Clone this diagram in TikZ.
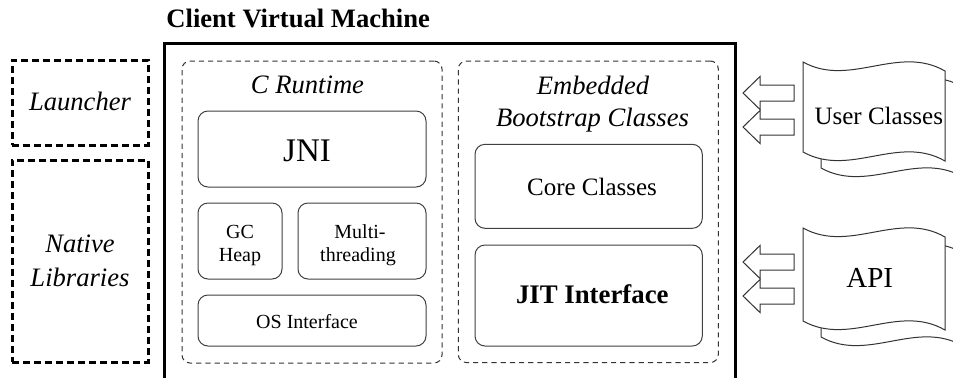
\documentclass[tikz,border=0pt]{standalone}
\usepackage{fontspec}
\setmainfont{Liberation Serif}
\usetikzlibrary{fit}
\tikzset{
  extbox/.style={draw=black, line width=1.5pt, dash pattern=on 3.5pt off 2pt, inner sep=0pt},
  groupbox/.style={draw=black!80, line width=0.5pt, dash pattern=on 2.6pt off 2pt, rounded corners=4pt, inner sep=0pt},
  ibox/.style={draw=black!75, line width=0.5pt, rounded corners=5pt, inner sep=0pt},
  docpage/.style={draw=black!80, line width=0.5pt, fill=white},
  blockarrow/.style={draw=black!80, line width=0.5pt, fill=white, line join=miter},
  lbl/.style={inner sep=0pt, anchor=base, align=center},
  fit/.append style={inner sep=0pt}
}
\newcommand\fsTitle{\fontsize{13.3}{17}\selectfont\bfseries}
\newcommand\fsItal{\fontsize{13.3}{17}\selectfont\itshape}
\newcommand\fsSmall{\fontsize{10}{11.7}\selectfont}
\newcommand\fsMid{\fontsize{12.5}{15}\selectfont}
\newcommand\docshape[3]{% x, y, h
  \begin{scope}[shift={(#1+18,#2+16)}]
    \path[docpage] (0,0) .. controls (47,26) and (95,-18) .. (142,9) -- (142,#3+9)
      .. controls (95,#3-18) and (47,#3+26) .. (0,#3) -- cycle;
  \end{scope}
  \begin{scope}[shift={(#1,#2)}]
    \path[docpage] (0,0) .. controls (47,26) and (95,-18) .. (142,9) -- (142,#3+9)
      .. controls (95,#3-18) and (47,#3+26) .. (0,#3) -- cycle;
  \end{scope}
}
\newcommand\blkarrow[1]{% tip y
  \path[blockarrow] (743,#1) -- (760,#1-16.5) -- (760,#1-8) -- (794,#1-8) -- (794,#1+8)
    -- (760,#1+8) -- (760,#1+16.5) -- cycle;
}
\begin{document}
\begin{tikzpicture}[x=0.5pt,y=-0.5pt]
\useasboundingbox (0,0) rectangle (953,377);
\clip (0,0) rectangle (953,377);
\fill[white] (0,0) rectangle (953,377);

% title
\node[lbl, anchor=base west] (title) at (166,27) {\fsTitle Client Virtual Machine};

% external boxes
\coordinate (la1) at (12,60); \coordinate (la2) at (148,145);
\node[extbox, fit=(la1)(la2)] (launcher) {};
\node[lbl] (launchertxt) at (80,110) {\fsItal Launcher};
\coordinate (nl1) at (12,160); \coordinate (nl2) at (148,362);
\node[extbox, fit=(nl1)(nl2)] (native) {};
\node[lbl] (nativetxt) at (80,252.7) {\fsItal Native};
\node[lbl] (nativetxt2) at (80,286.7) {\fsItal Libraries};

% main machine box (open at bottom, cropped)
\coordinate (mbl) at (164.5,420);
\coordinate (mtl) at (164.5,43.5);
\coordinate (mtr) at (735.5,43.5);
\coordinate (mbr) at (735.5,420);
\draw[line width=1.5pt, line join=miter] (mbl) -- (mtl) -- (mtr) -- (mbr);

% C runtime group
\coordinate (cr1) at (182,61); \coordinate (cr2) at (442,363);
\node[groupbox, fit=(cr1)(cr2)] (cruntime) {};
\node[lbl] (crtxt) at (307.5,93.3) {\fsItal C Runtime};

\coordinate (j1) at (198,111); \coordinate (j2) at (426,187);
\node[ibox, fit=(j1)(j2)] (jni) {};
\node[lbl] (jnitxt) at (307,161) {\fontsize{16.5}{19}\selectfont JNI};

\coordinate (g1) at (198,203); \coordinate (g2) at (282,279);
\node[ibox, fit=(g1)(g2)] (gcheap) {};
\node[lbl] (gctxt) at (240,238.3) {\fsSmall GC};
\node[lbl] (gctxt2) at (240,261.7) {\fsSmall Heap};

\coordinate (m1) at (298,203); \coordinate (m2) at (426,279);
\node[ibox, fit=(m1)(m2)] (multi) {};
\node[lbl] (mttxt) at (360,238.3) {\fsSmall Multi-};
\node[lbl] (mttxt2) at (358,261.7) {\fsSmall threading};

\coordinate (o1) at (198,295); \coordinate (o2) at (426,346);
\node[ibox, fit=(o1)(o2)] (osif) {};
\node[lbl] (ostxt) at (307,328.3) {\fsSmall OS Interface};

% Embedded bootstrap classes group
\coordinate (e1) at (458.3,61); \coordinate (e2) at (718.3,362.5);
\node[groupbox, fit=(e1)(e2)] (embedded) {};
\node[lbl] (emtxt) at (593,94.3) {\fsItal Embedded};
\node[lbl] (emtxt2) at (592.5,126) {\fsItal Bootstrap Classes};

\coordinate (c1) at (475,144.3); \coordinate (c2) at (702.3,228.3);
\node[ibox, fit=(c1)(c2)] (core) {};
\node[lbl] (coretxt) at (592,195) {\fsMid Core Classes};

\coordinate (t1) at (475,245); \coordinate (t2) at (702.3,346);
\node[ibox, fit=(t1)(t2)] (jit) {};
\node[lbl] (jittxt) at (592.3,303.3) {\fontsize{13.4}{16}\selectfont\bfseries JIT Interface};

% documents
\docshape{803}{62}{90}
\node[lbl] (usertxt) at (878.8,124) {\fsMid User Classes};
\docshape{803}{228}{93}
\node[lbl] (apitxt) at (869.7,287.7) {\fontsize{14.5}{17}\selectfont API};

% block arrows
\blkarrow{93}
\blkarrow{127}
\blkarrow{262}
\blkarrow{296}
\end{tikzpicture}
\end{document}
